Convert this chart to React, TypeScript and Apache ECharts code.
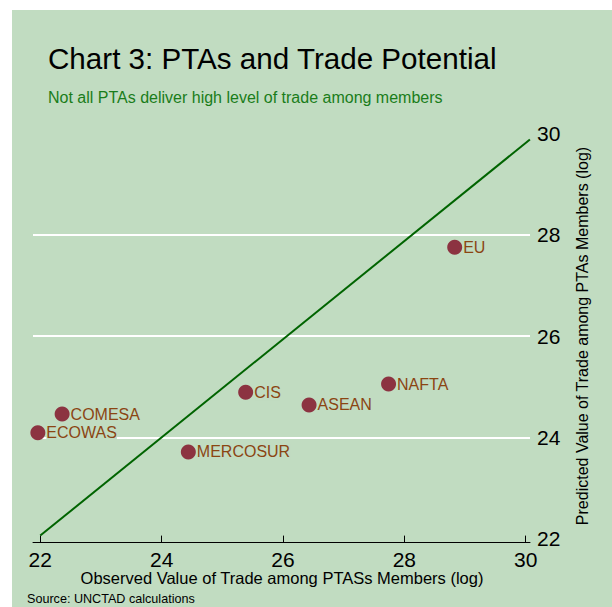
import React, { useEffect, useRef } from "react";
import * as echarts from "echarts";

const names = ["EU", "NAFTA", "ASEAN", "CIS", "COMESA", "ECOWAS", "MERCOSUR"];
const observed = [28.83, 27.74, 26.43, 25.385, 22.36, 21.96, 24.44];
const predicted = [27.75, 25.05, 24.64, 24.89, 24.46, 24.09, 23.71];
const lineX = [22, 30.07];
const lineY = [22.06, 29.88];
const xTicks = [22, 24, 26, 28, 30];

const FONT = "'Liberation Sans', Arial, sans-serif";
const BG = "#c1dcc1";

export default function App() {
  const ref = useRef<HTMLDivElement>(null);
  useEffect(() => {
    if (!ref.current) return;
    const chart = echarts.init(ref.current, null, { renderer: "svg" });
    const points = names.map((n, i) => ({ name: n, value: [observed[i], predicted[i]] }));
    const diag = lineX.map((x, i) => [x, lineY[i]]);
    chart.setOption({
      animation: false,
      backgroundColor: "#ffffff",
      grid: { left: 33, right: 82, top: 133.4, bottom: 68.4, containLabel: false },
      xAxis: {
        type: "value",
        min: 21.88,
        max: 30.071,
        offset: 4,
        axisLine: { show: true, lineStyle: { color: "#000", width: 1 } },
        axisTick: { show: true, inside: true, length: 7, customValues: xTicks, lineStyle: { color: "#000", width: 1 } },
        axisLabel: { customValues: xTicks, fontSize: 21, lineHeight: 18, color: "#000", fontFamily: FONT, margin: 8 },
        splitLine: { show: false },
      },
      yAxis: {
        type: "value",
        position: "right",
        min: 22,
        max: 30,
        interval: 2,
        axisLine: { show: false },
        axisTick: { show: false },
        axisLabel: { fontSize: 21, color: "#000", fontFamily: FONT, margin: 7 },
        splitLine: {
          show: true,
          lineStyle: { color: ["rgba(0,0,0,0)", "#ffffff", "#ffffff", "#ffffff", "rgba(0,0,0,0)"], width: 2 },
        },
      },
      graphic: [
        { type: "rect", z: -10, silent: true, shape: { x: 12, y: 10, width: 600, height: 597 }, style: { fill: BG } },
        {
          type: "text", x: 48, y: 58,
          style: { text: "Chart 3: PTAs and Trade Potential", font: `29.6px ${FONT}`, fill: "#000", verticalAlign: "middle" },
        },
        {
          type: "text", x: 48, y: 97,
          style: { text: "Not all PTAs deliver high level of trade among members", font: `16px ${FONT}`, fill: "#1a7d1a", verticalAlign: "middle" },
        },
        {
          type: "text", x: 282, y: 578,
          style: { text: "Observed Value of Trade among PTASs Members (log)", font: `16.5px ${FONT}`, fill: "#000", align: "center", verticalAlign: "middle" },
        },
        {
          type: "text", x: 582, y: 336, rotation: Math.PI / 2,
          style: { text: "Predicted Value of Trade among PTAs Members (log)", font: `16px ${FONT}`, fill: "#000", align: "center", verticalAlign: "middle" },
        },
        {
          type: "text", x: 27, y: 599,
          style: { text: "Source: UNCTAD calculations", font: `12.6px ${FONT}`, fill: "#000", verticalAlign: "middle" },
        },
      ],
      series: [
        {
          type: "line",
          data: diag,
          showSymbol: false,
          symbol: "none",
          lineStyle: { color: "#006400", width: 2 },
          z: 2,
          silent: true,
        },
        {
          type: "scatter",
          data: points,
          symbolSize: 15,
          itemStyle: { color: "#8c3341", opacity: 1 },
          z: 3,
          label: {
            show: true,
            position: "right",
            distance: 1,
            formatter: "{b}",
            color: "#8b4513",
            fontSize: 16,
            fontFamily: FONT,
            backgroundColor: BG,
            padding: [0, 0, 0, 0],
          },
        },
      ],
    });
    return () => chart.dispose();
  }, []);
  return <div ref={ref} style={{ position: "absolute", left: 0, top: 0, width: 612, height: 607 }} />;
}
